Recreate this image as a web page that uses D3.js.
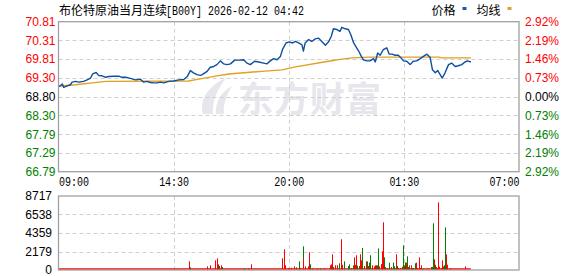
<!DOCTYPE html>
<html><head><meta charset="utf-8">
<script src="https://cdn.jsdelivr.net/npm/d3@7/dist/d3.min.js"></script>
<style>body{margin:0;background:#fff}svg{display:block}</style>
</head><body><svg id="c" width="578" height="276"></svg>
<script>
// ---------- data ----------
const titleName = "布伦特原油当月连续";
const titleCode = "[B00Y] 2026-02-12 04:42";
const legendNames = ["价格", "均线"];
const priceTicks = [70.81, 70.31, 69.81, 69.30, 68.80, 68.30, 67.79, 67.29, 66.79];
const pctTicks = ["2.92%", "2.19%", "1.46%", "0.73%", "0.00%", "0.73%", "1.46%", "2.19%", "2.92%"];
const prevClose = 68.80;
const volTicks = [8717, 6538, 4359, 2179, 0];
const timeTicks = [0, 330, 660, 990, 1320];          // minutes after 09:00
const timeLabels = ["09:00", "14:30", "20:00", "01:30", "07:00"];

// price line: minutes after 09:00, price
const priceTimes = [0,3,11,15,25,34,39,49,58,72,82,92,98,108,115,125,135,144,158,173,182,192,206,221,235,244,254,263,273,283,292,302,316,330,345,359,369,378,387,397,407,412,426,435,445,454,464,473,483,493,505,516,531,540,550,562,574,588,598,607,617,626,636,642,652,661,671,679,688,698,702,707,717,726,736,745,755,765,774,782,788,798,807,812,822,831,838,846,852,860,868,874,884,893,903,908,915,922,931,941,948,956,965,974,982,989,998,1008,1017,1027,1037,1046,1056,1065,1072,1080,1087,1094,1100,1108,1118,1127,1137,1146,1156,1165,1173,1182];
const prices = [69.10,69.08,69.14,69.05,69.09,69.12,69.19,69.21,69.19,69.21,69.25,69.30,69.41,69.45,69.37,69.36,69.32,69.34,69.35,69.35,69.32,69.32,69.29,69.25,69.27,69.19,69.21,69.18,69.17,69.17,69.19,69.17,69.21,69.22,69.25,69.26,69.34,69.50,69.44,69.39,69.37,69.39,69.48,69.59,69.61,69.66,69.76,69.68,69.66,69.68,69.78,69.78,69.79,69.70,69.66,69.75,69.73,69.70,69.68,69.76,69.82,69.79,69.88,70.06,70.24,70.27,70.24,70.28,70.24,70.19,70.02,70.24,70.33,70.28,70.35,70.37,70.28,70.18,70.27,70.42,70.62,70.60,70.55,70.66,70.62,70.60,70.46,70.24,70.15,70.03,69.88,69.79,69.76,69.76,69.82,69.73,69.97,69.91,70.06,70.11,69.94,69.94,69.91,69.91,69.84,69.76,69.75,69.66,69.75,69.76,69.82,69.88,69.94,69.86,69.52,69.44,69.50,69.39,69.30,69.44,69.66,69.70,69.61,69.63,69.66,69.73,69.76,69.73];

// average line
const avgTimes = [0,49,97,135,373,402,450,488,583,641,679,774,807,841,889,1090,1099,1182];
const avgPrices = [69.08,69.12,69.17,69.21,69.22,69.27,69.35,69.41,69.48,69.52,69.60,69.75,69.80,69.84,69.86,69.86,69.84,69.84];

// volume bars (notable ones): minutes after 09:00, volume, direction r=up g=down
const volTimes = [373,377,427,435,450,453,456,459,465,470,533,543,551,641,642,645,648,658,661,667,674,682,688,692,700,702,708,714,719,722,728,742,751,761,777,781,785,788,794,798,803,805,809,811,814,817,831,834,838,843,846,848,851,854,857,861,865,868,871,876,880,884,888,891,894,898,903,908,911,914,917,920,924,926,929,932,934,937,943,948,952,958,962,966,969,972,979,985,987,990,993,996,998,1002,1006,1010,1014,1017,1021,1024,1027,1032,1037,1040,1046,1056,1067,1071,1074,1077,1080,1083,1086,1089,1092,1096,1100,1103,1106,1109,1112,1115,1122,1166];
const volumes = [1020,320,430,550,1140,1380,670,470,550,350,230,200,670,230,1380,2440,550,200,200,270,430,310,1020,230,2790,1340,430,430,2090,670,200,200,200,200,550,670,1850,350,550,550,400,790,550,3620,620,1020,470,670,230,550,550,1490,620,1730,510,470,1850,1140,2590,470,1020,1020,470,860,1730,550,430,550,550,550,2550,430,710,2200,5620,790,1490,350,230,860,350,860,430,1850,470,230,230,390,2910,550,900,860,1610,350,550,550,230,230,790,860,230,1490,230,550,160,160,350,350,5500,1260,620,350,230,7970,390,230,1140,430,550,5030,1850,620,230,430];
const volDirs = ("rgrrrrrgrg"+"ggrrrrrrrr"+"rrgrgrrrrg"+"rrgrrrrgrr"+"gggrrgggrg"+"grrrggrrgr"+"grrggrrrgr"+"grrrrrgrrg"+"rggrgrrrgr"+"grgrgrgrgr"+"rrrrggrggr"+"grrrrrrrgg"+"rrrr").split("");

// ---------- drawing ----------
const svg = d3.select("#c");
const L = 58.5, R = 519, PT = 21.7, PB = 171.7, VT = 196, VB = 270;
const x = d3.scaleLinear().domain([0, 1320]).range([L, R]);
const yP = d3.scaleLinear().domain([66.79, 70.81]).range([PB, PT]);
const yV = d3.scaleLinear().domain([0, 8717]).range([VB, VT]);
const RED = "#ff0000", GREEN = "#008000", GRID = "#d0d0d0";
const numFont = "'Liberation Sans', Arial, sans-serif";
const cjkFont = "'Noto Sans CJK SC', sans-serif";
const monoFont = "'Liberation Mono', 'DejaVu Sans Mono', monospace";

// watermark
const wm = svg.append("g").attr("fill", "#e6e6ec");
wm.append("path").attr("d", "M203,114 C199,100 208,86 226,78 C217,90 212,101 213,114 Z");
wm.append("path").attr("d", "M216,114 C215,102 221,92 232,86 C226,96 223,105 224,114 Z");
wm.append("text").attr("x", 238).attr("y", 112).attr("font-family", cjkFont)
  .attr("font-weight", "bold").attr("font-size", 35).attr("letter-spacing", 1).text("东方财富");

// grids
function gridH(scale, vals) {
  svg.append("g").selectAll("line").data(vals).join("line")
    .attr("x1", L).attr("x2", R).attr("y1", d => Math.round(scale(d)) + 0.5).attr("y2", d => Math.round(scale(d)) + 0.5)
    .attr("stroke", GRID).attr("stroke-dasharray", "4,3");
}
gridH(yP, priceTicks.slice(1, -1));
gridH(yV, volTicks.slice(1, -1));
[[PT, PB], [VT, VB]].forEach(([t, b]) => {
  svg.append("g").selectAll("line").data(timeTicks.slice(1, -1)).join("line")
    .attr("x1", d => Math.round(x(d)) + 0.5).attr("x2", d => Math.round(x(d)) + 0.5)
    .attr("y1", t).attr("y2", b).attr("stroke", GRID).attr("stroke-dasharray", "4,3");
});

// volume baseline (small per-minute volumes)
svg.append("line").attr("x1", x(0)).attr("x2", x(priceTimes[priceTimes.length - 1]))
  .attr("y1", VB - 1).attr("y2", VB - 1).attr("stroke", RED).attr("stroke-width", 1.5);

// volume bars
svg.append("g").selectAll("rect").data(volTimes).join("rect")
  .attr("x", d => Math.round(x(d)))
  .attr("width", 1)
  .attr("y", (d, i) => yV(volumes[i]))
  .attr("height", (d, i) => VB - yV(volumes[i]))
  .attr("fill", (d, i) => volDirs[i] === "r" ? RED : GREEN);

// lines
const avgLine = d3.line().x((d, i) => x(avgTimes[i])).y(d => yP(d));
svg.append("path").datum(avgPrices).attr("d", avgLine).attr("fill", "none")
  .attr("stroke", "#e0a020").attr("stroke-width", 1.4);
const priceLine = d3.line().x((d, i) => x(priceTimes[i])).y(d => yP(d));
svg.append("path").datum(prices).attr("d", priceLine).attr("fill", "none")
  .attr("stroke", "#0f4fa0").attr("stroke-width", 1.4).attr("stroke-linejoin", "round");

// borders
[[PT, PB], [VT, VB]].forEach(([t, b]) => {
  svg.append("rect").attr("x", L).attr("y", t).attr("width", R - L).attr("height", b - t)
    .attr("fill", "none").attr("stroke", "#a0a0a0").attr("stroke-width", 1.3);
});

// axes
const colorFor = v => v > prevClose + 1e-9 ? RED : (v < prevClose - 1e-9 ? GREEN : "#000");
const la = svg.append("g").attr("transform", `translate(55.5,0)`)
  .call(d3.axisLeft(yP).tickValues(priceTicks).tickSize(0).tickPadding(0).tickFormat(d3.format(".2f")));
la.select(".domain").remove();
la.selectAll("text").attr("font-family", numFont).attr("font-size", 12).attr("fill", d => colorFor(d));

const ra = svg.append("g").attr("transform", `translate(525,0)`)
  .call(d3.axisRight(yP).tickValues(priceTicks).tickSize(0).tickPadding(0).tickFormat((d, i) => pctTicks[i]));
ra.select(".domain").remove();
ra.selectAll("text").attr("font-family", numFont).attr("font-size", 12).attr("fill", d => colorFor(d));

const va = svg.append("g").attr("transform", `translate(52,0)`)
  .call(d3.axisLeft(yV).tickValues(volTicks).tickSize(0).tickPadding(0).tickFormat(d3.format("d")));
va.select(".domain").remove();
va.selectAll("text").attr("font-family", numFont).attr("font-size", 12).attr("fill", "#000");

const ba = svg.append("g").attr("transform", `translate(0,${PB})`)
  .call(d3.axisBottom(x).tickValues(timeTicks).tickSize(0).tickPadding(0).tickFormat((d, i) => timeLabels[i]));
ba.select(".domain").remove();
ba.selectAll("text").attr("font-family", monoFont).attr("font-size", 12).attr("fill", "#000")
  .attr("y", 14.5).attr("dy", 0)
  .attr("textLength", 30).attr("lengthAdjust", "spacingAndGlyphs")
  .attr("text-anchor", (d, i) => i === 0 ? "start" : (i === timeTicks.length - 1 ? "end" : "middle"));

// title
svg.append("text").attr("x", 59).attr("y", 14.5).attr("font-family", cjkFont).attr("font-size", 12)
  .attr("fill", "#000").text(titleName);
svg.append("text").attr("x", 166).attr("y", 14.5).attr("font-family", monoFont).attr("font-size", 12.5)
  .attr("fill", "#000").attr("textLength", 138).attr("lengthAdjust", "spacingAndGlyphs").text(titleCode);

// legend
const legColors = ["#1a5aa8", "#e0a030"];
const legX = [431.5, 476.5];
legendNames.forEach((n, i) => {
  svg.append("text").attr("x", legX[i]).attr("y", 14.5).attr("font-family", cjkFont).attr("font-size", 12)
    .attr("fill", "#000").text(n);
  svg.append("rect").attr("x", legX[i] + 31).attr("y", 7).attr("width", 4).attr("height", 3).attr("fill", legColors[i]);
});
</script></body></html>
